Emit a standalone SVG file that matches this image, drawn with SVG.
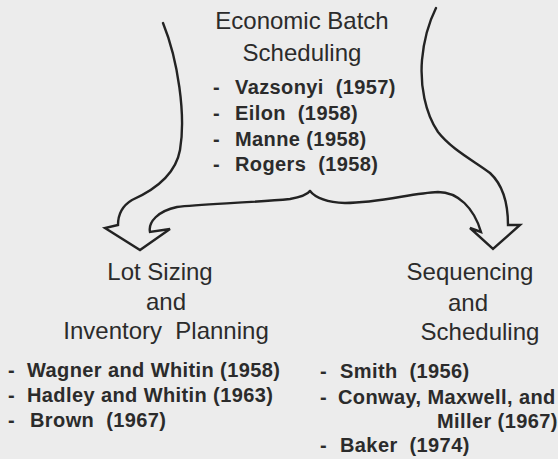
<svg xmlns="http://www.w3.org/2000/svg" width="558" height="459" viewBox="0 0 558 459">
  <style>
    .head { font-family: "Liberation Sans", Arial, sans-serif; font-size: 24px; fill: #2b2b2b; }
    .item { font-family: "Liberation Sans", Arial, sans-serif; font-size: 20px; font-weight: bold; fill: #2b2b2b; letter-spacing: 0.4px; }
    .flow { fill: none; stroke: #232323; stroke-width: 2.4; stroke-linejoin: miter; stroke-linecap: round; }
  </style>
  <rect width="558" height="459" fill="#ececec"/>

  <!-- split arrows from the top topic to the two branches -->
  <g id="connectors">
    <path class="flow" d="M163,23 C178,60 186,115 180,150 C175,178 150,192 132,200 C122,206 118,215 118,225 L105,228 L140,250 L170,229 L150,232 C148,222 158,211 177,207 C200,204 250,203 290,199 C301,197 307,195 310,191"/>
    <path class="flow" d="M310,191 C314,196 322,202 345,203 C380,203 412,193 438,192 C458,192 474,208 481,232 L470,228 L493,249 L520,225 L508,225 C508,203 503,185 490,173 C476,162 452,150 438,132 C425,113 420,85 422,60 C424,38 430,20 436,8"/>
  </g>

  <g id="economic-batch-scheduling">
    <text class="head" x="302" y="29" text-anchor="middle">Economic Batch</text>
    <text class="head" x="302" y="61" text-anchor="middle">Scheduling</text>
    <text class="item" x="213" y="94">-</text>
    <text class="item" x="235" y="94" xml:space="preserve">Vazsonyi  (1957)</text>
    <text class="item" x="213" y="120">-</text>
    <text class="item" x="235" y="120" xml:space="preserve">Eilon  (1958)</text>
    <text class="item" x="213" y="146">-</text>
    <text class="item" x="235" y="146">Manne (1958)</text>
    <text class="item" x="213" y="171">-</text>
    <text class="item" x="235" y="171" xml:space="preserve">Rogers  (1958)</text>
  </g>

  <g id="lot-sizing">
    <text class="head" x="160" y="280" text-anchor="middle">Lot Sizing</text>
    <text class="head" x="166" y="310" text-anchor="middle">and</text>
    <text class="head" x="166" y="339" text-anchor="middle" xml:space="preserve">Inventory  Planning</text>
    <text class="item" x="8" y="377">-</text>
    <text class="item" x="27" y="377">Wagner and Whitin (1958)</text>
    <text class="item" x="8" y="402">-</text>
    <text class="item" x="27" y="402">Hadley and Whitin (1963)</text>
    <text class="item" x="8" y="427">-</text>
    <text class="item" x="30" y="427" xml:space="preserve">Brown  (1967)</text>
  </g>

  <g id="sequencing">
    <text class="head" x="470" y="280" text-anchor="middle">Sequencing</text>
    <text class="head" x="468" y="311" text-anchor="middle">and</text>
    <text class="head" x="480" y="340" text-anchor="middle">Scheduling</text>
    <text class="item" x="320" y="378">-</text>
    <text class="item" x="340" y="378" xml:space="preserve">Smith  (1956)</text>
    <text class="item" x="320" y="404">-</text>
    <text class="item" x="338" y="404">Conway, Maxwell, and</text>
    <text class="item" x="437" y="428">Miller (1967)</text>
    <text class="item" x="320" y="452">-</text>
    <text class="item" x="340" y="452" xml:space="preserve">Baker  (1974)</text>
  </g>
</svg>
